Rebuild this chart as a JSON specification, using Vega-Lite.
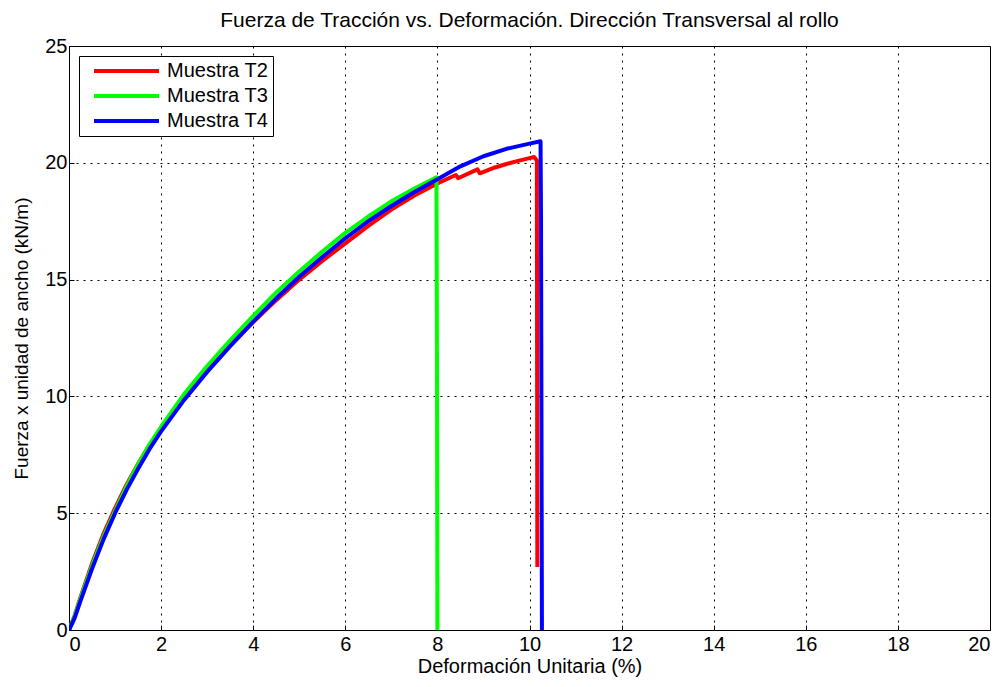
{
  "$schema": "https://vega.github.io/schema/vega-lite/v6.json",
  "width": 921,
  "height": 584,
  "autosize": {"type": "none"},
  "padding": {"left": 69, "top": 46, "right": 15, "bottom": 57},
  "background": "white",
  "title": {
    "text": "Fuerza de Tracción vs. Deformación. Dirección Transversal al rollo",
    "font": "Liberation Sans",
    "fontSize": 21,
    "fontWeight": "normal",
    "color": "black",
    "offset": 5
  },
  "config": {
    "view": {"stroke": "black", "strokeWidth": 1},
    "font": "Liberation Sans"
  },
  "data": {
    "values": [
      {"s": "Muestra T2", "x": 0, "y": 0},
      {"s": "Muestra T2", "x": 0.12, "y": 0.6},
      {"s": "Muestra T2", "x": 0.25, "y": 1.4},
      {"s": "Muestra T2", "x": 0.5, "y": 2.85},
      {"s": "Muestra T2", "x": 0.75, "y": 4.12},
      {"s": "Muestra T2", "x": 1.0, "y": 5.22},
      {"s": "Muestra T2", "x": 1.25, "y": 6.22},
      {"s": "Muestra T2", "x": 1.5, "y": 7.12},
      {"s": "Muestra T2", "x": 1.75, "y": 7.93},
      {"s": "Muestra T2", "x": 2.0, "y": 8.65},
      {"s": "Muestra T2", "x": 2.5, "y": 9.95},
      {"s": "Muestra T2", "x": 3.0, "y": 11.12},
      {"s": "Muestra T2", "x": 3.5, "y": 12.18},
      {"s": "Muestra T2", "x": 4.0, "y": 13.18},
      {"s": "Muestra T2", "x": 4.5, "y": 14.12},
      {"s": "Muestra T2", "x": 5.0, "y": 15.0},
      {"s": "Muestra T2", "x": 5.5, "y": 15.8},
      {"s": "Muestra T2", "x": 6.0, "y": 16.55},
      {"s": "Muestra T2", "x": 6.5, "y": 17.3},
      {"s": "Muestra T2", "x": 7.0, "y": 18.0},
      {"s": "Muestra T2", "x": 7.5, "y": 18.6},
      {"s": "Muestra T2", "x": 8.0, "y": 19.12},
      {"s": "Muestra T2", "x": 8.4, "y": 19.48},
      {"s": "Muestra T2", "x": 8.45, "y": 19.34},
      {"s": "Muestra T2", "x": 8.87, "y": 19.72},
      {"s": "Muestra T2", "x": 8.92, "y": 19.55},
      {"s": "Muestra T2", "x": 9.25, "y": 19.8},
      {"s": "Muestra T2", "x": 9.5, "y": 19.95},
      {"s": "Muestra T2", "x": 9.75, "y": 20.08},
      {"s": "Muestra T2", "x": 10.0, "y": 20.2},
      {"s": "Muestra T2", "x": 10.1, "y": 20.25},
      {"s": "Muestra T2", "x": 10.16, "y": 20.1},
      {"s": "Muestra T2", "x": 10.17, "y": 2.7},
      {"s": "Muestra T3", "x": 0, "y": 0},
      {"s": "Muestra T3", "x": 0.12, "y": 0.58},
      {"s": "Muestra T3", "x": 0.25, "y": 1.35},
      {"s": "Muestra T3", "x": 0.5, "y": 2.75},
      {"s": "Muestra T3", "x": 0.75, "y": 4.0},
      {"s": "Muestra T3", "x": 1.0, "y": 5.1},
      {"s": "Muestra T3", "x": 1.25, "y": 6.15},
      {"s": "Muestra T3", "x": 1.5, "y": 7.1},
      {"s": "Muestra T3", "x": 1.75, "y": 7.95},
      {"s": "Muestra T3", "x": 2.0, "y": 8.7},
      {"s": "Muestra T3", "x": 2.5, "y": 10.1},
      {"s": "Muestra T3", "x": 3.0, "y": 11.3},
      {"s": "Muestra T3", "x": 3.5, "y": 12.4},
      {"s": "Muestra T3", "x": 4.0, "y": 13.45},
      {"s": "Muestra T3", "x": 4.5, "y": 14.45},
      {"s": "Muestra T3", "x": 5.0, "y": 15.35},
      {"s": "Muestra T3", "x": 5.5, "y": 16.2},
      {"s": "Muestra T3", "x": 6.0, "y": 17.0},
      {"s": "Muestra T3", "x": 6.5, "y": 17.7},
      {"s": "Muestra T3", "x": 7.0, "y": 18.35},
      {"s": "Muestra T3", "x": 7.5, "y": 18.9},
      {"s": "Muestra T3", "x": 7.98, "y": 19.38},
      {"s": "Muestra T3", "x": 7.99, "y": 12.0},
      {"s": "Muestra T3", "x": 8.0, "y": 0},
      {"s": "Muestra T4", "x": 0, "y": 0},
      {"s": "Muestra T4", "x": 0.12, "y": 0.5},
      {"s": "Muestra T4", "x": 0.25, "y": 1.25},
      {"s": "Muestra T4", "x": 0.5, "y": 2.62},
      {"s": "Muestra T4", "x": 0.75, "y": 3.88},
      {"s": "Muestra T4", "x": 1.0, "y": 5.0},
      {"s": "Muestra T4", "x": 1.25, "y": 6.0},
      {"s": "Muestra T4", "x": 1.5, "y": 6.9},
      {"s": "Muestra T4", "x": 1.75, "y": 7.75},
      {"s": "Muestra T4", "x": 2.0, "y": 8.5},
      {"s": "Muestra T4", "x": 2.5, "y": 9.85},
      {"s": "Muestra T4", "x": 3.0, "y": 11.05},
      {"s": "Muestra T4", "x": 3.5, "y": 12.15},
      {"s": "Muestra T4", "x": 4.0, "y": 13.2},
      {"s": "Muestra T4", "x": 4.5, "y": 14.2},
      {"s": "Muestra T4", "x": 5.0, "y": 15.12},
      {"s": "Muestra T4", "x": 5.5, "y": 15.97},
      {"s": "Muestra T4", "x": 6.0, "y": 16.77},
      {"s": "Muestra T4", "x": 6.5, "y": 17.5},
      {"s": "Muestra T4", "x": 7.0, "y": 18.15},
      {"s": "Muestra T4", "x": 7.5, "y": 18.75},
      {"s": "Muestra T4", "x": 8.0, "y": 19.3},
      {"s": "Muestra T4", "x": 8.5, "y": 19.85},
      {"s": "Muestra T4", "x": 9.0, "y": 20.28},
      {"s": "Muestra T4", "x": 9.5, "y": 20.6},
      {"s": "Muestra T4", "x": 10.0, "y": 20.82},
      {"s": "Muestra T4", "x": 10.24, "y": 20.92},
      {"s": "Muestra T4", "x": 10.25, "y": 17.7},
      {"s": "Muestra T4", "x": 10.27, "y": 0}
    ]
  },
  "mark": {"type": "line", "strokeWidth": 4, "strokeJoin": "round", "clip": true},
  "encoding": {
    "x": {
      "field": "x",
      "type": "quantitative",
      "scale": {"domain": [0, 20], "nice": false, "zero": false},
      "axis": {
        "title": "Deformación Unitaria (%)",
        "values": [0, 2, 4, 6, 8, 10, 12, 14, 16, 18, 20],
        "grid": true,
        "gridColor": "black",
        "gridDash": [2, 5],
        "gridOpacity": 1,
        "domainColor": "black",
        "tickColor": "black",
        "tickSize": -5,
        "labelFontSize": 20,
        "labelColor": "black",
        "labelPadding": 9,
        "labelFont": "Liberation Sans",
        "titleFont": "Liberation Sans",
        "titleFontSize": 20,
        "titleFontWeight": "normal",
        "titleColor": "black",
        "titlePadding": 2
      }
    },
    "y": {
      "field": "y",
      "type": "quantitative",
      "scale": {"domain": [0, 25], "nice": false, "zero": false},
      "axis": {
        "title": "Fuerza x unidad de ancho (kN/m)",
        "values": [0, 5, 10, 15, 20, 25],
        "grid": true,
        "gridColor": "black",
        "gridDash": [2, 5],
        "gridOpacity": 1,
        "domainColor": "black",
        "tickColor": "black",
        "tickSize": -5,
        "labelFontSize": 20,
        "labelColor": "black",
        "labelPadding": 7,
        "labelFont": "Liberation Sans",
        "titleFont": "Liberation Sans",
        "titleFontSize": 19,
        "titleFontWeight": "normal",
        "titleColor": "black",
        "titlePadding": 13
      }
    },
    "color": {
      "field": "s",
      "type": "nominal",
      "scale": {"domain": ["Muestra T2", "Muestra T3", "Muestra T4"], "range": ["#ff0000", "#00ff00", "#0000ff"]},
      "legend": {
        "title": null,
        "orient": "top-left",
        "offset": 10,
        "strokeColor": "black",
        "fillColor": "white",
        "padding": 4,
        "clipHeight": 22,
        "rowPadding": 3,
        "symbolType": "stroke",
        "symbolSize": 4225,
        "symbolStrokeWidth": 4,
        "symbolOffset": 9,
        "labelFontSize": 20,
        "labelFont": "Liberation Sans",
        "labelColor": "black",
        "labelOffset": 6
      }
    }
  }
}
